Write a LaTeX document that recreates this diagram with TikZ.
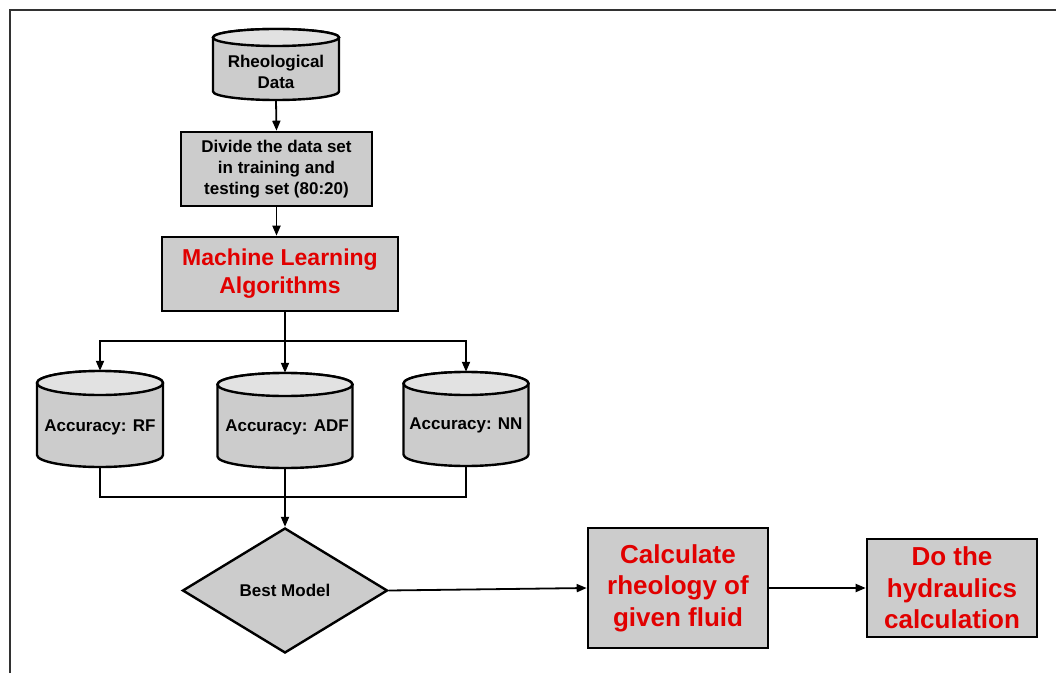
\documentclass[tikz,border=0pt]{standalone}
\usepackage{fontspec}
\setmainfont{Liberation Sans}
\usetikzlibrary{shapes.geometric,arrows.meta}
\definecolor{boxgray}{RGB}{204,204,204}
\definecolor{topgray}{RGB}{226,226,226}
\definecolor{redtxt}{RGB}{225,0,0}
\definecolor{framegray}{RGB}{50,50,50}
\tikzset{
  smallfont/.style={font=\fontsize{17}{21}\selectfont\bfseries},
  midfont/.style={font=\fontsize{23}{28}\selectfont\bfseries},
  bigfont/.style={font=\fontsize{26}{31.5}\selectfont\bfseries},
  box/.style={draw=black, line width=2.6pt, fill=boxgray, inner sep=0pt, align=center},
  cylbody/.style={draw=black, line width=2.4pt, fill=boxgray},
  cyltop/.style={draw=black, line width=2.4pt, fill=topgray},
  ghost/.style={inner sep=0pt, draw=none},
  txt/.style={inner sep=0pt, align=center, smallfont},
  conn/.style={draw=black, line width=1.8pt},
  arr/.style={conn, -{Triangle[length=10pt,width=8pt]}},
  frameline/.style={draw=framegray, line width=2pt},
  decision/.style={diamond, draw=black, line width=2.4pt, fill=boxgray, inner sep=0pt, aspect=1.64, minimum width=205pt, minimum height=125pt}
}
\newcommand\drum[6]{%
  \path[cylbody] (#2-#5,#3-#6) -- (#2-#5,#4+#6)
     arc[start angle=180,end angle=360,x radius=#5,y radius=#6]
     -- (#2+#5,#3-#6)
     arc[start angle=0,end angle=180,x radius=#5,y radius=#6] -- cycle;
  \path[cyltop] (#2,#3-#6) ellipse [x radius=#5, y radius=#6];
  \node[ghost, minimum width={2*#5}, minimum height={#3-#4}] (#1) at (#2,{(#3+#4)/2}) {};
}
\begin{document}
\begin{tikzpicture}[x=1pt,y=1pt]
\useasboundingbox (0,0) rectangle (1056,673);
\draw[frameline] (10,0) -- (10,663) -- (1056,663);

% Rheological data
\drum{rd}{276}{644}{573}{63}{8.5}
\node[txt] (rdt) at (276,601.5) {Rheological\\Data};

% Divide box
\node[box, smallfont, minimum width=191pt, minimum height=74pt] (div) at (276.5,504)
  {Divide the data set\\in training and\\testing set (80:20)};

% ML box
\node[box, midfont, text=redtxt, minimum width=236pt, minimum height=74pt] (ml) at (280,399)
  {Machine Learning\\Algorithms};

% accuracy cylinders
\drum{rf}{100}{302}{206}{63}{12}
\node[txt] (rft) at (100,246) {Accuracy: RF};
\drum{adf}{285}{300}{205}{67.5}{11.5}
\node[txt] (adft) at (287,246) {Accuracy: ADF};
\drum{nn}{466}{301}{207}{62.5}{11.5}
\node[txt] (nnt) at (466,248) {Accuracy: NN};

% Best model
\node[decision, smallfont] (best) at (285,82.5) {Best Model};

% Calculate / Do
\node[box, bigfont, text=redtxt, minimum width=180pt, minimum height=120pt] (calc) at (678,85)
  {Calculate\\rheology of\\given fluid};
\node[box, bigfont, text=redtxt, minimum width=170pt, minimum height=98pt] (do) at (952,85)
  {Do the\\hydraulics\\calculation};

% connectors
\coordinate (split) at (285,332);
\coordinate (join) at (285,176);
\draw[arr] (rd.south) -- (div.north);
\draw[arr] (div.south) -- (div.south |- ml.north);
\draw[conn] (ml.south -| split) -- (split);
\draw[arr] (split) -| (rf.north);
\draw[arr] (split) -| (nn.north);
\draw[arr] (split) -- (adf.north);
\draw[conn] (rf.south) |- (join);
\draw[conn] (nn.south) |- (join);
\draw[arr] (adf.south) -- (best.north);
\draw[arr] (best.east) -- (calc.west);
\draw[arr] (calc.east) -- (do.west);
\end{tikzpicture}
\end{document}
